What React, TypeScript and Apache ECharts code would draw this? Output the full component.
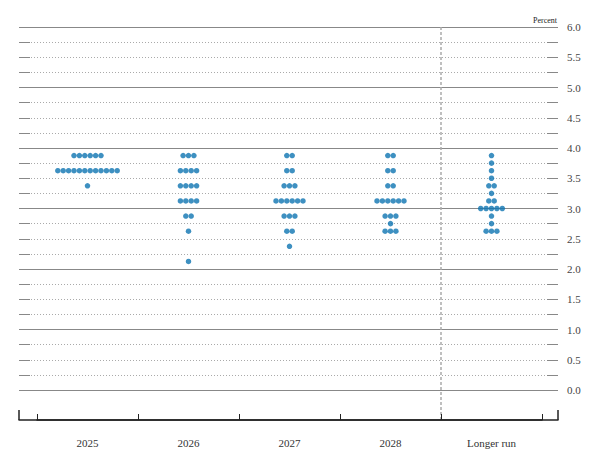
import React, { useEffect, useRef } from "react";
import * as echarts from "echarts";

const categories = ["2025", "2026", "2027", "2028", "Longer run"];
const rateLevels = [3.875, 3.75, 3.625, 3.5, 3.375, 3.25, 3.125, 3.0, 2.875, 2.75, 2.625, 2.5, 2.375, 2.25, 2.125];
const counts2025 = [6, 0, 12, 0, 1, 0, 0, 0, 0, 0, 0, 0, 0, 0, 0];
const counts2026 = [3, 0, 4, 0, 4, 0, 4, 0, 2, 0, 1, 0, 0, 0, 1];
const counts2027 = [2, 0, 2, 0, 3, 0, 6, 0, 3, 0, 2, 0, 1, 0, 0];
const counts2028 = [2, 0, 2, 0, 2, 0, 6, 0, 3, 1, 3, 0, 0, 0, 0];
const countsLongerRun = [1, 1, 1, 1, 2, 1, 2, 5, 1, 1, 3, 0, 0, 0, 0];
const countsByCategory = [counts2025, counts2026, counts2027, counts2028, countsLongerRun];
const yMin = 0;
const yMax = 6;

const FONT = "Liberation Serif";
const DOT_SPACING = 5.4;

export default function App() {
  const ref = useRef<HTMLDivElement>(null);
  useEffect(() => {
    if (!ref.current) return;
    const chart = echarts.init(ref.current, null, { renderer: "svg" });
    const dots: any[] = [];
    countsByCategory.forEach((counts, ci) => {
      counts.forEach((n, li) => {
        for (let k = 0; k < n; k++) {
          dots.push({
            value: [ci, rateLevels[li]],
            symbolOffset: [(k - (n - 1) / 2) * DOT_SPACING, 0],
          });
        }
      });
    });
    const tickStyle = { color: "#888", width: 1 };
    // only the boundary before "Longer run" is drawn
    const separatorColors = categories.map((_, i) => (i === categories.length - 1 ? "#aaa" : "rgba(0,0,0,0)"));
    separatorColors.push("rgba(0,0,0,0)");
    chart.setOption({
      animation: false,
      title: {
        text: "Percent",
        right: 38,
        top: 16,
        padding: 0,
        textStyle: { fontSize: 8, fontWeight: "normal", color: "#222", fontFamily: FONT },
      },
      grid: [
        { left: 19, right: 37, top: 27, bottom: 67 },
        { left: 37, right: 53, top: 27, bottom: 67 },
        { left: 37, right: 53, top: 27, bottom: 37 },
        { left: 19, right: 37, top: 27, bottom: 67 },
      ],
      xAxis: [
        {
          gridIndex: 0,
          type: "value",
          min: 0,
          max: 1,
          interval: 1,
          offset: 30,
          axisLine: { show: true, onZero: false, lineStyle: { color: "#222", width: 1.5 } },
          axisTick: { show: true, inside: true, length: 10, lineStyle: { color: "#222", width: 1.5 } },
          axisLabel: { show: false },
          splitLine: { show: false },
        },
        {
          gridIndex: 1,
          type: "category",
          data: categories,
          boundaryGap: true,
          show: false,
        },
        {
          gridIndex: 2,
          type: "category",
          data: categories,
          boundaryGap: true,
          axisLine: { show: true, onZero: false, lineStyle: { color: "#222", width: 1.5 } },
          axisTick: { show: true, inside: true, length: 6, lineStyle: { color: "#222", width: 1 } },
          axisLabel: { color: "#333", fontSize: 11, fontFamily: FONT, margin: 17 },
          splitLine: {
            show: true,
            lineStyle: { color: separatorColors, width: 1.5, type: [3, 2] },
          },
        },
        {
          gridIndex: 3,
          type: "value",
          min: 0,
          max: 1,
          show: false,
        },
      ],
      yAxis: [
        {
          gridIndex: 0,
          type: "value",
          min: yMin,
          max: yMax,
          interval: 0.25,
          position: "right",
          axisLine: { show: false, onZero: false },
          axisTick: { show: true, inside: true, length: 11, lineStyle: tickStyle },
          axisLabel: {
            color: "#444",
            fontSize: 11,
            fontFamily: FONT,
            margin: 9,
            formatter: (v: number) => (Math.abs(v * 2 - Math.round(v * 2)) < 1e-6 ? v.toFixed(1) : ""),
          },
          splitLine: { show: true, lineStyle: { color: "#aaa", width: 1, type: [1, 2] } },
        },
        {
          gridIndex: 0,
          type: "value",
          min: yMin,
          max: yMax,
          interval: 0.25,
          position: "left",
          axisLine: { show: false, onZero: false },
          axisTick: { show: true, inside: true, length: 11, lineStyle: tickStyle },
          axisLabel: { show: false },
          splitLine: { show: false },
        },
        {
          gridIndex: 1,
          type: "value",
          min: yMin,
          max: yMax,
          show: false,
        },
        {
          gridIndex: 2,
          type: "value",
          min: 0,
          max: 1,
          show: false,
        },
        {
          gridIndex: 3,
          type: "value",
          min: yMin,
          max: yMax,
          interval: 1,
          axisLine: { show: false, onZero: false },
          axisTick: { show: false },
          axisLabel: { show: false },
          splitLine: { show: true, lineStyle: { color: "#888", width: 1, type: "solid" } },
        },
      ],
      series: [
        {
          type: "scatter",
          xAxisIndex: 1,
          yAxisIndex: 2,
          symbol: "circle",
          symbolSize: 5.5,
          itemStyle: { color: "#0e74b2" },
          data: dots,
          z: 5,
        },
      ],
    });
    return () => chart.dispose();
  }, []);
  return (
    <div
      ref={ref}
      style={{ position: "fixed", left: 0, top: 0, width: 595, height: 457, background: "#fff" }}
    />
  );
}
